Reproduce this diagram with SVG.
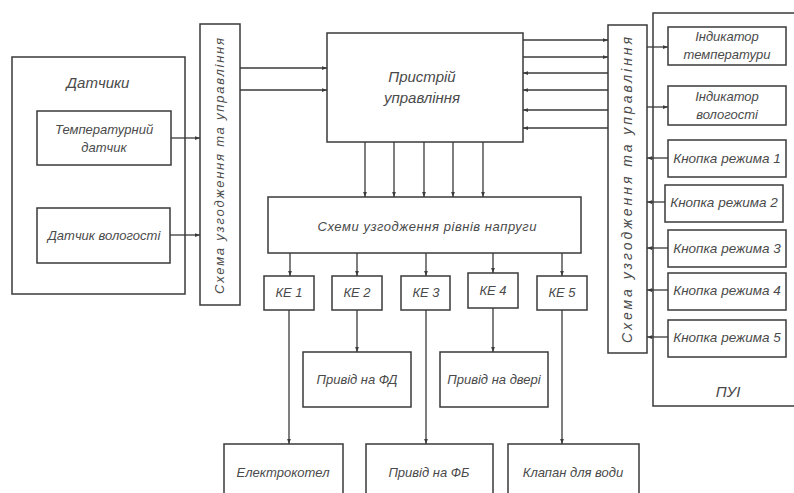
<svg xmlns="http://www.w3.org/2000/svg" width="794" height="493" viewBox="0 0 794 493">
<defs>
<style>
.box{fill:none;stroke:#3a3a3a;stroke-width:1.5}
.ln{fill:none;stroke:#3a3a3a;stroke-width:1.3;marker-end:url(#ah)}
.t{font-family:"Liberation Sans",Arial,sans-serif;font-style:italic;font-size:13px;fill:#4a4a4a;text-anchor:middle}
.tb{font-size:15px}
.tk{font-size:13.5px}
.tv{font-size:14px}
</style>
<marker id="ah" viewBox="0 0 8 6" refX="8" refY="3" markerWidth="5" markerHeight="4" orient="auto" markerUnits="userSpaceOnUse">
<path d="M0,0 L8,3 L0,6 Z" fill="#3a3a3a"/>
</marker>
</defs>
<rect width="794" height="493" fill="#ffffff"/>

<g id="datchyky">
<rect class="box" x="12" y="57" width="173" height="237"/>
<text class="t tb" x="98" y="88">Датчики</text>
</g>
<g id="temp-sensor">
<rect class="box" x="37" y="111" width="134" height="54"/>
<text class="t" x="104" y="134">Температурний</text>
<text class="t" x="104" y="152">датчик</text>
</g>
<g id="hum-sensor">
<rect class="box" x="37" y="208" width="133" height="55"/>
<text class="t" x="104" y="240">Датчик вологості</text>
</g>
<g id="scheme-left">
<rect class="box" x="200" y="24" width="40" height="281"/>
<text class="t" transform="translate(224,166) rotate(-90)" textLength="256">Схема узгодження та управління</text>
</g>
<g id="control">
<rect class="box" x="327" y="33" width="196" height="109"/>
<text class="t tb" x="422" y="82">Пристрій</text>
<text class="t tb" x="422" y="103">управління</text>
</g>
<g id="scheme-voltage">
<rect class="box" x="268" y="197" width="313" height="56"/>
<text class="t" x="427" y="231" textLength="219">Схеми узгодження рівнів напруги</text>
</g>
<g id="ke1"><rect class="box" x="264" y="276" width="50" height="34"/><text class="t" x="289" y="297">КЕ 1</text></g>
<g id="ke2"><rect class="box" x="332" y="276" width="50" height="34"/><text class="t" x="357" y="297">КЕ 2</text></g>
<g id="ke3"><rect class="box" x="401" y="276" width="49" height="34"/><text class="t" x="426" y="297">КЕ 3</text></g>
<g id="ke4"><rect class="box" x="468" y="273" width="50" height="35"/><text class="t" x="493" y="295">КЕ 4</text></g>
<g id="ke5"><rect class="box" x="537" y="276" width="50" height="34"/><text class="t" x="562" y="297">КЕ 5</text></g>
<g id="privid-fd"><rect class="box" x="303" y="352" width="108" height="55"/><text class="t" x="357" y="384">Привід на ФД</text></g>
<g id="privid-dveri"><rect class="box" x="440" y="352" width="108" height="55"/><text class="t" x="494" y="384">Привід на двері</text></g>
<g id="elektrokotel"><rect class="box" x="224" y="444" width="119" height="60"/><text class="t" x="283" y="477">Електрокотел</text></g>
<g id="privid-fb"><rect class="box" x="366" y="444" width="127" height="60"/><text class="t" x="429" y="477">Привід на ФБ</text></g>
<g id="klapan"><rect class="box" x="508" y="444" width="131" height="60"/><text class="t" x="573" y="477">Клапан для води</text></g>
<g id="scheme-right">
<rect class="box" x="608" y="25" width="39" height="328"/>
<text class="t tv" transform="translate(632,190) rotate(-90)" textLength="306">Схема узгодження та управління</text>
</g>
<g id="pui">
<rect class="box" x="653" y="13" width="150" height="393"/>
<text class="t tb" x="728" y="397">ПУІ</text>
</g>
<g id="ind-temp"><rect class="box" x="668" y="27" width="118" height="38"/><text class="t" x="727" y="41">Індикатор</text><text class="t" x="727" y="59">температури</text></g>
<g id="ind-hum"><rect class="box" x="668" y="86" width="118" height="39"/><text class="t" x="727" y="101">Індикатор</text><text class="t" x="727" y="119">вологості</text></g>
<g id="btn1"><rect class="box" x="668" y="140" width="118" height="37"/><text class="t tk" x="727" y="163">Кнопка режима 1</text></g>
<g id="btn2"><rect class="box" x="665" y="185" width="118" height="37"/><text class="t tk" x="724" y="207">Кнопка режима 2</text></g>
<g id="btn3"><rect class="box" x="668" y="230" width="118" height="37"/><text class="t tk" x="727" y="253">Кнопка режима 3</text></g>
<g id="btn4"><rect class="box" x="668" y="273" width="118" height="37"/><text class="t tk" x="727" y="295">Кнопка режима 4</text></g>
<g id="btn5"><rect class="box" x="668" y="320" width="118" height="37"/><text class="t tk" x="727" y="342">Кнопка режима 5</text></g>

<g id="connectors">
<line class="ln" x1="171" y1="138" x2="200" y2="138"/>
<line class="ln" x1="170" y1="235" x2="200" y2="235"/>
<line class="ln" x1="240" y1="68" x2="327" y2="68"/>
<line class="ln" x1="240" y1="90" x2="327" y2="90"/>
<line class="ln" x1="523" y1="40" x2="608" y2="40"/>
<line class="ln" x1="523" y1="57" x2="608" y2="57"/>
<line class="ln" x1="608" y1="73" x2="523" y2="73"/>
<line class="ln" x1="608" y1="90" x2="523" y2="90"/>
<line class="ln" x1="608" y1="110" x2="523" y2="110"/>
<line class="ln" x1="608" y1="128" x2="523" y2="128"/>
<line class="ln" x1="365" y1="142" x2="365" y2="197"/>
<line class="ln" x1="394" y1="142" x2="394" y2="197"/>
<line class="ln" x1="424" y1="142" x2="424" y2="197"/>
<line class="ln" x1="453" y1="142" x2="453" y2="197"/>
<line class="ln" x1="483" y1="142" x2="483" y2="197"/>
<line class="ln" x1="290" y1="253" x2="290" y2="276"/>
<line class="ln" x1="357" y1="253" x2="357" y2="276"/>
<line class="ln" x1="426" y1="253" x2="426" y2="276"/>
<line class="ln" x1="493" y1="253" x2="493" y2="273"/>
<line class="ln" x1="562" y1="253" x2="562" y2="276"/>
<line class="ln" x1="289" y1="310" x2="289" y2="444"/>
<line class="ln" x1="357" y1="310" x2="357" y2="352"/>
<line class="ln" x1="426" y1="310" x2="426" y2="444"/>
<line class="ln" x1="493" y1="308" x2="493" y2="352"/>
<line class="ln" x1="562" y1="310" x2="562" y2="444"/>
<line class="ln" x1="647" y1="47" x2="668" y2="47"/>
<line class="ln" x1="647" y1="107" x2="668" y2="107"/>
<line class="ln" x1="668" y1="158" x2="647" y2="158"/>
<line class="ln" x1="665" y1="202" x2="647" y2="202"/>
<line class="ln" x1="668" y1="248" x2="647" y2="248"/>
<line class="ln" x1="668" y1="290" x2="647" y2="290"/>
<line class="ln" x1="668" y1="337" x2="647" y2="337"/>
</g>
</svg>
